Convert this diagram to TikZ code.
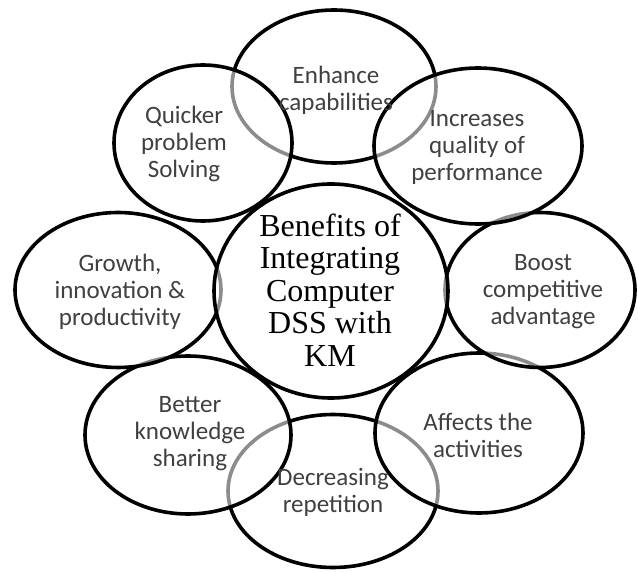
\documentclass[tikz,border=0pt]{standalone}
\usepackage{fontspec}
\setmainfont{Liberation Serif}
\newfontfamily\petalfont{Carlito}
\usetikzlibrary{shapes.geometric}

\begin{document}
\begin{tikzpicture}[x=1pt, y=-1pt,
  blob/.style={draw, ellipse, line width=3.6pt, fill=white, fill opacity=0.55, inner sep=0pt},
  lbl/.style={align=center, text=black!75, font=\petalfont\fontsize{25}{27}\selectfont},
  hub/.style={align=center, font=\fontsize{32}{32.5}\selectfont}
]
\useasboundingbox (0,0) rectangle (638,572);

\foreach \n/\x/\y/\w/\h in {enh/334/86.5/204/153, dec/333/491/210/153,
    bet/188/435/206/158, aff/479/433/208/160, gro/118/290/206/155,
    boo/540/290/190/155, core/331/291/234/214, qui/203/143/178/156,
    inc/478/146/208/156}
  \node[blob, minimum width=\w pt, minimum height=\h pt] (\n) at (\x,\y) {};

\node[hub] (tcore) at (330,290) {Benefits of\\Integrating\\Computer\\DSS with\\KM};
\node[lbl] (tenh) at (336,90) {Enhance\\capabilities};
\node[lbl] (tqui) at (184,144) {Quicker\\problem\\Solving};
\node[lbl] (tinc) at (477,147) {Increases\\quality of\\performance};
\node[lbl] (tgro) at (120,292) {Growth,\\innovation \&\\productivity};
\node[lbl] (tboo) at (543,292) {Boost\\competitive\\advantage};
\node[lbl] (tbet) at (190,434) {Better\\knowledge\\sharing};
\node[lbl] (taff) at (478,435) {Affects the\\activities};
\node[lbl] (tdec) at (333,492) {Decreasing\\repetition};
\end{tikzpicture}
\end{document}
